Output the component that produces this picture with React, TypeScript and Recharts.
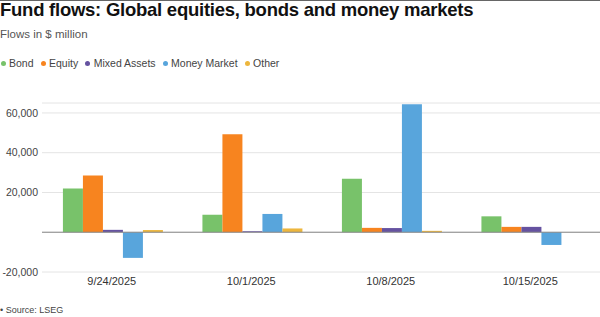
import { BarChart, Bar, XAxis, YAxis, CartesianGrid, ReferenceLine } from 'recharts';

const dates = ['9/24/2025', '10/1/2025', '10/8/2025', '10/15/2025'];
const bond = [22000, 8800, 26900, 8000];
const equity = [28500, 49300, 2200, 2700];
const mixedAssets = [1200, 500, 2100, 2700];
const moneyMarket = [-12900, 9200, 64400, -6400];
const other = [1100, 1900, 700, 0];
const yTicks = [-20000, 0, 20000, 40000, 60000];

const series = [
    { key: 'bond', name: 'Bond', color: '#78c26a' },
    { key: 'equity', name: 'Equity', color: '#f7841f' },
    { key: 'mixed', name: 'Mixed Assets', color: '#6552a0' },
    { key: 'money', name: 'Money Market', color: '#58a5dc' },
    { key: 'other', name: 'Other', color: '#edb63d' },
];

const data = dates.map((date, i) => ({
    date,
    bond: bond[i],
    equity: equity[i],
    mixed: mixedAssets[i],
    money: moneyMarket[i],
    other: other[i],
}));

const font = '"Liberation Sans", Arial, Helvetica, sans-serif';

function formatTick(v: number) {
    if (v === 0) return '';
    const s = Math.abs(v).toLocaleString('en-US');
    return v < 0 ? `-${s}` : s;
}

export default function App() {
    return (
        <div
            style={{
                position: 'absolute',
                left: 0,
                top: 0,
                width: 600,
                height: 317,
                background: '#fff',
                fontFamily: font,
                overflow: 'hidden',
            }}
        >
            <div style={{ position: 'absolute', left: 0, top: 0, width: 600, height: 1, background: '#666' }} />
            <div
                style={{
                    position: 'absolute',
                    left: 0,
                    top: 1,
                    fontSize: 18.5,
                    lineHeight: 1,
                    fontWeight: 700,
                    letterSpacing: -0.25,
                    color: '#111',
                    whiteSpace: 'nowrap',
                }}
            >
                Fund flows: Global equities, bonds and money markets
            </div>
            <div
                style={{
                    position: 'absolute',
                    left: 0,
                    top: 28.5,
                    fontSize: 11.5,
                    lineHeight: 1,
                    color: '#555',
                    whiteSpace: 'nowrap',
                }}
            >
                Flows in $ million
            </div>
            <div
                style={{
                    position: 'absolute',
                    left: 0.5,
                    top: 58,
                    display: 'flex',
                    alignItems: 'center',
                    fontSize: 10.5,
                    lineHeight: 1,
                    color: '#444',
                    whiteSpace: 'nowrap',
                }}
            >
                {series.map((s) => (
                    <div key={s.key} style={{ display: 'flex', alignItems: 'center', marginRight: 7 }}>
                        <span
                            style={{
                                width: 5,
                                height: 5,
                                borderRadius: '50%',
                                background: s.color,
                                marginRight: 3.5,
                                display: 'inline-block',
                            }}
                        />
                        <span>{s.name}</span>
                    </div>
                ))}
            </div>

            <div style={{ position: 'absolute', left: 0, top: 0 }}>
                <BarChart
                    width={600}
                    height={317}
                    data={data}
                    margin={{ top: 103, right: 0, bottom: 15, left: 0 }}
                    barCategoryGap="15%"
                    barGap={0}
                >
                    <CartesianGrid vertical={false} stroke="#e4e4e4" />
                    <XAxis
                        dataKey="date"
                        height={30}
                        axisLine={false}
                        tickLine={false}
                        tickSize={0}
                        tickMargin={5}
                        tick={{ fontSize: 11, fill: '#333', fontFamily: font }}
                    />
                    <YAxis
                        width={42}
                        domain={[-20000, 65000]}
                        ticks={yTicks}
                        axisLine={false}
                        tickLine={false}
                        tickSize={0}
                        tickMargin={4}
                        tickFormatter={formatTick}
                        tick={{ fontSize: 10.5, fill: '#444', fontFamily: font }}
                    />
                    {series.map((s) => (
                        <Bar key={s.key} dataKey={s.key} name={s.name} fill={s.color} isAnimationActive={false} />
                    ))}
                    <ReferenceLine y={0} stroke="#8a8a8a" strokeWidth={1} />
                </BarChart>
            </div>

            <div
                style={{
                    position: 'absolute',
                    left: 0,
                    top: 306,
                    fontSize: 9,
                    lineHeight: 1,
                    color: '#444',
                    whiteSpace: 'nowrap',
                }}
            >
                • Source: LSEG
            </div>
        </div>
    );
}
